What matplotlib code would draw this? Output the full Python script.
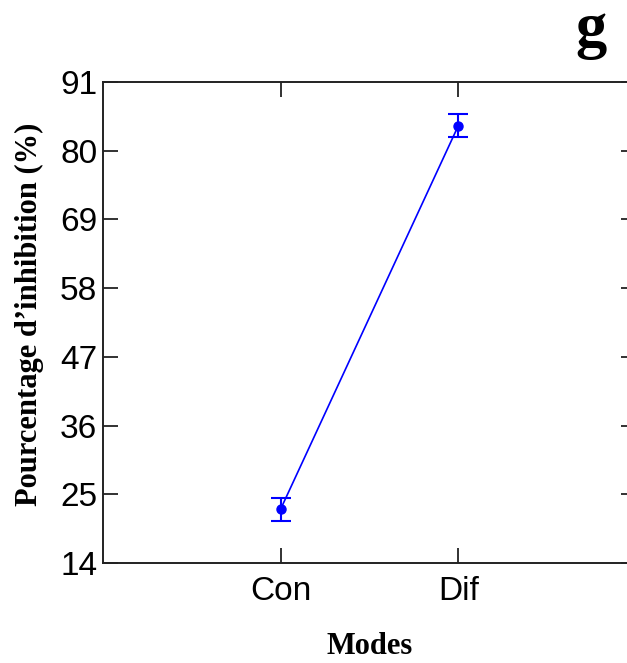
import numpy as np
import matplotlib
matplotlib.use('Agg')
import matplotlib.pyplot as plt

# donnees
modes = ['Con', 'Dif']
inhibition = [22.6, 84.0]
erreurs = [1.8, 1.8]
yticks = [14, 25, 36, 47, 58, 69, 80, 91]

plt.rcParams['font.family'] = 'Liberation Sans'

fig = plt.figure(figsize=(6.27, 6.63), dpi=100)
ax = fig.add_axes([0.164, 0.1508, 0.8504, 0.7255])

x = np.arange(1, len(modes) + 1)
ax.errorbar(x, inhibition, yerr=erreurs, color='blue', marker='o', markersize=6.5,
            linewidth=1.2, capsize=7, capthick=1.5, elinewidth=1.5)

ax.set_xlim(0, 3)
ax.set_ylim(14, 91)
ax.set_xticks(x)
ax.set_xticklabels(modes)
ax.set_yticks(yticks)

ax.tick_params(direction='in', length=11, width=1.3, labelsize=24,
               top=True, right=True, color='#222222')
ax.tick_params(axis='x', pad=9)
ax.tick_params(axis='y', pad=4)
for s in ax.spines.values():
    s.set_linewidth(1.4)
    s.set_color('#222222')

ax.set_xlabel('Modes', family='Liberation Serif', fontweight='bold',
              fontsize=22, labelpad=18)
ax.set_ylabel('Pourcentage d\u2019inhibition (%)', family='Liberation Serif',
              fontweight='bold', fontsize=22)
ax.yaxis.set_label_coords(-0.11, 0.518)

fig.text(0.943, 0.93, 'g', family='Liberation Serif', fontweight='bold',
         fontsize=45, ha='center', va='baseline')

plt.savefig('out.png', dpi=100)
